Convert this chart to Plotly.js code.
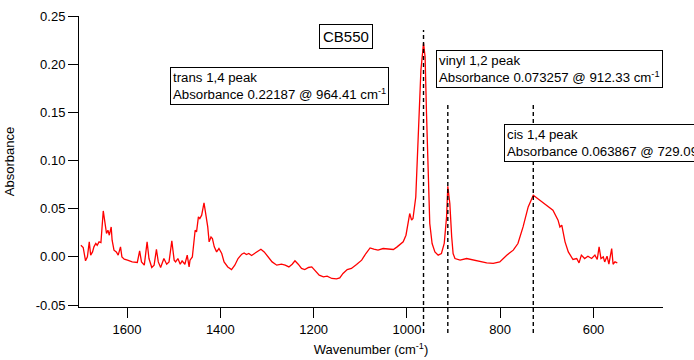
<!DOCTYPE html>
<html>
<head>
<meta charset="utf-8">
<script src="https://cdn.plot.ly/plotly-3.0.1.min.js"></script>
<style>html,body{margin:0;padding:0;background:#fff;}#chart{width:694px;height:360px;}</style>
</head>
<body>
<div id="chart"></div>
<script>
// Spectrum: wavenumber (cm^-1) and absorbance
const wavenumber = [1699,1694,1689,1685,1681,1678,1674,1671,1667,1664,1660,1656,1651,1647,1644,1641,1638,1634,1632,1628,1623,1619,1614,1611,1606,1599,1589,1578,1573,1569,1563,1557,1553,1547,1542,1537,1533,1528,1521,1515,1510,1504,1499,1496,1491,1486,1482,1476,1471,1467,
1465,1460,1454,1451,1447,1444,1440,1435,1431,1427,1424,1420,1417,1413,1408,1403,1397,1392,1384,1376,1369,1362,1354,1349,1344,1339,1333,1326,1319,1313,1306,1297,1289,1279,1269,1261,1253,1246,1240,
1233,1226,1219,1211,1204,1197,1188,1179,1171,1161,1151,1144,1137,1128,1119,1108,1097,1088,1079,1071,1062,1051,1040,1029,1021,1015,
1008,1002,997,994,990,987,981,976,970,964.41,961,958,954,951,946,940,933,926,920,915,912.33,908,904,901,897,886,872,851,829,815,801,786,772,762,751,740,729.09,715,701,687,676,672,668,665,661,654,647,644,636,631,626,619,612,604,597,592,588,584,579,576,571,567,561,558,554,549];
const absorbance = [0.0121,0.0098,-0.0041,0,0.0156,0.0018,0.0052,0.0104,0.0139,0.0121,0.0156,0.0149,0.0477,0.0311,0.0243,0.0277,0.0225,0.0311,0.0173,0.0070,0.0052,0.0018,0.0104,0,-0.0024,-0.0034,-0.0052,-0.0058,0.0062,-0.0052,-0.0086,0.0156,-0.0017,-0.0110,-0.0086,0.0077,-0.0052,-0.0110,-0.0017,-0.0076,-0.0052,0.0166,-0.0034,-0.0052,-0.0017,-0.0076,-0.0041,-0.0076,0.0018,-0.0104,
-0.0034,0,0.0277,0.0259,0.0415,0.0398,0.0433,0.0560,0.0450,0.0311,0.0156,0.0207,0.0191,0.0104,0.0052,0.0087,0.0035,-0.0052,-0.0104,-0.0131,-0.0086,-0.0017,0.0028,0.0041,0.0025,0.0035,0.0015,0.0035,0.0062,0.0080,0.0052,0,-0.0052,-0.0086,-0.0076,-0.0086,-0.0104,-0.0076,-0.0041,
-0.0076,-0.0120,-0.0131,-0.0110,-0.0104,-0.0138,-0.0190,-0.0207,-0.0200,-0.0224,-0.0228,-0.0218,-0.0172,-0.0131,-0.0120,-0.0079,-0.0034,0.0035,0.0093,0.0080,0.0070,0.0087,0.0080,0.0077,0.0104,0.0132,
0.0156,0.0225,0.0381,0.0450,0.0381,0.0398,0.0622,0.1314,0.1937,0.22187,0.2075,0.1488,0.0796,0.0346,0.0139,0.0052,0.0018,0.0035,0.0139,0.0415,0.073257,0.0554,0.0207,0.0035,-0.0017,-0.0034,-0.0017,-0.0041,-0.0062,-0.0068,-0.0052,0.0018,0.0070,0.0139,0.0311,0.0519,0.063867,0.0588,0.0536,0.0484,0.0381,0.0311,0.0329,0.0243,0.0156,0.0052,0,-0.0027,-0.0017,-0.0062,0.0018,-0.0017,0.0007,-0.0017,0.0018,-0.0027,0.0104,-0.0017,0,-0.0052,0.0007,-0.0076,0.0087,-0.0076,-0.0052,-0.0062];

// Peak markers
const peakNames = ['trans 1,4 peak', 'vinyl 1,2 peak', 'cis 1,4 peak'];
const peakWavenumber = [964.41, 912.33, 729.09];
const peakAbsorbance = ['0.22187', '0.073257', '0.063867'];

// Ticks
const xTicks = [1600, 1400, 1200, 1000, 800, 600];
const yTicks = [-0.05, 0, 0.05, 0.10, 0.15, 0.20, 0.25];
const sampleName = 'CB550';

const FONT = 'Liberation Sans, Arial, sans-serif';

// label box placement (paper coords), dashed line tops (paper)
const boxPos = [[0.1558, 0.8237], [0.6113, 0.8832], [0.7277, 0.6289]];
const dashTop = [0.952, 0.701, 0.701];
const dashBottom = -0.089;

const shapes = peakWavenumber.map((w, i) => ({
  type: 'line', xref: 'x', yref: 'paper',
  x0: w, x1: w, y0: dashBottom, y1: dashTop[i],
  line: {color: '#000', width: 1.4, dash: '4px,3px'}
}));

const annotations = peakNames.map((n, i) => ({
  xref: 'paper', yref: 'paper', x: boxPos[i][0], y: boxPos[i][1],
  xanchor: 'left', yanchor: 'top', align: 'left', showarrow: false,
  text: n + '<br>Absorbance ' + peakAbsorbance[i] + ' @ ' + peakWavenumber[i].toFixed(2) + ' cm<sup>-1</sup>',
  font: {family: FONT, size: 13.25, color: '#000'},
  bordercolor: '#000', borderwidth: 1, borderpad: 2, bgcolor: '#fff'
}));
annotations.push({
  xref: 'paper', yref: 'paper', x: 0.4115, y: 0.9725,
  xanchor: 'left', yanchor: 'top', showarrow: false,
  text: sampleName,
  font: {family: FONT, size: 15, color: '#000'},
  bordercolor: '#000', borderwidth: 1, borderpad: 3, bgcolor: '#fff'
});

const trace = {
  x: wavenumber, y: absorbance, type: 'scatter', mode: 'lines',
  line: {color: '#ff0000', width: 1.3}, hoverinfo: 'skip'
};

const layout = {
  width: 694, height: 360,
  margin: {l: 79, r: 31, t: 16, b: 53},
  paper_bgcolor: '#fff', plot_bgcolor: '#fff',
  showlegend: false,
  font: {family: FONT, size: 13, color: '#000'},
  xaxis: {
    range: [1703, 451], showgrid: false, zeroline: false,
    showline: true, linecolor: '#000', linewidth: 1,
    ticks: 'outside', ticklen: 10, tickcolor: '#000', tickwidth: 1,
    tickmode: 'array', tickvals: xTicks, ticktext: xTicks.map(String),
    tickfont: {family: FONT, size: 13, color: '#000'},
    title: {text: 'Wavenumber (cm<sup>-1</sup>)', font: {family: FONT, size: 13, color: '#000'}, standoff: 9}
  },
  yaxis: {
    range: [-0.052, 0.25], showgrid: false, zeroline: false,
    showline: true, linecolor: '#000', linewidth: 1,
    ticks: 'outside', ticklen: 10, tickcolor: '#000', tickwidth: 1,
    tickmode: 'array', tickvals: yTicks, ticktext: yTicks.map(v => v.toFixed(2)),
    tickfont: {family: FONT, size: 13, color: '#000'},
    title: {text: 'Absorbance', font: {family: FONT, size: 13, color: '#000'}, standoff: 18}
  },
  shapes: shapes,
  annotations: annotations
};

Plotly.newPlot('chart', [trace], layout, {staticPlot: true, displayModeBar: false});
</script>
</body>
</html>
